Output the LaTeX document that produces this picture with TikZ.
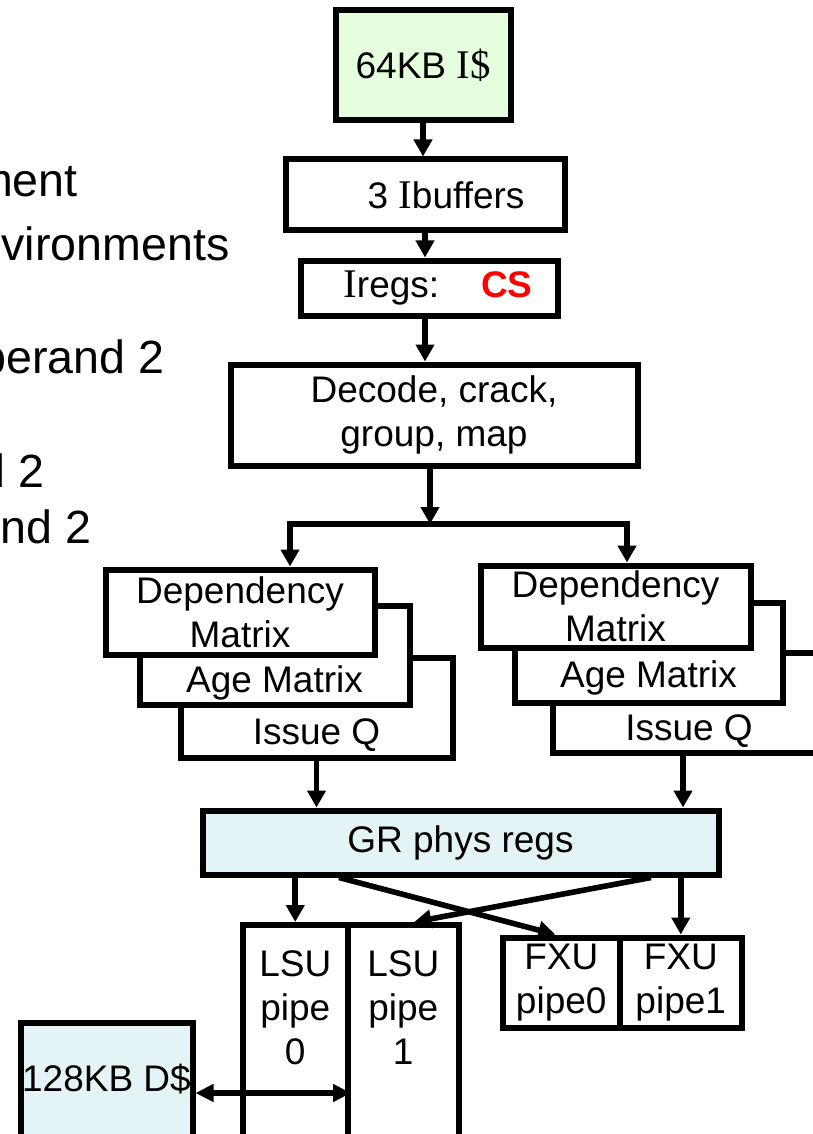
\documentclass[tikz,border=0pt]{standalone}
\usepackage{fontspec}
\setmainfont{Liberation Sans}
\newfontfamily\serifface[Scale=1.1]{Liberation Serif}
\usetikzlibrary{arrows.meta}

\definecolor{icfill}{RGB}{229,255,222}
\definecolor{regfill}{RGB}{228,244,246}
\newcommand{\boxfont}{\fontsize{18.5pt}{22pt}\selectfont}
\newcommand{\slidefont}{\fontsize{23.3pt}{28pt}\selectfont}
\newcommand{\sI}{{\serifface I}}

\tikzset{
  unit/.style={draw, line width=3pt, fill=white, inner sep=0pt, align=center, font=\boxfont},
  tag/.style={inner sep=0pt, align=center, font=\boxfont},
  flow/.style={line width=2.8pt, -{Triangle[length=8.5pt,width=9pt]}},
  dflow/.style={line width=2.8pt, {Triangle[length=9pt,width=8.5pt]}-{Triangle[length=9pt,width=8.5pt]}},
  wire/.style={line width=2.8pt, line cap=rect},
  slide/.style={anchor=base east, inner sep=0pt, font=\slidefont},
}

\begin{document}
\begin{tikzpicture}[x=0.5pt, y=-0.5pt]
\useasboundingbox (0,0) rectangle (813,1134);

% slide text, cut off at the left edge
\node[slide] (lineA) at (78,197) {ment};
\node[slide] (lineB) at (230,260) {vironments};
\node[slide] (lineC) at (165,373) {perand 2};
\node[slide] (lineD) at (45,487) {d 2};
\node[slide] (lineE) at (92,543) {nd 2};

% front end
\node[unit, fill=icfill, minimum width=87.5pt, minimum height=55pt] (icache) at (423,65.5) {64KB {\serifface I\$}};
\node[unit, minimum width=139.5pt, minimum height=35.5pt] (ibuf) at (425,195) {\hspace{21pt}3 \sI{}buffers};
\node[unit, minimum width=128.5pt, minimum height=27.5pt] (iregs) at (429,288) {\raisebox{-3.5pt}{\hspace{9pt}\sI{}regs:\hspace{21pt}\textcolor{red}{\bfseries CS}}};
\node[unit, minimum width=203.5pt, minimum height=50.5pt] (decode) at (434,415) {Decode, crack,\\group, map};

% issue side, back to front
\node[unit, minimum width=136pt, minimum height=50pt, label={[tag,anchor=base,yshift=8pt]south:Issue Q}] (issL) at (316.5,707.5) {};
\node[unit, minimum width=135pt, minimum height=49.5pt, label={[tag,anchor=base,yshift=7.5pt]south:Age Matrix}] (ageL) at (274.5,655) {};
\node[unit, minimum width=134.5pt, minimum height=42.5pt] (depL) at (240,612) {Dependency\\Matrix};

\node[unit, minimum width=136pt, minimum height=50pt, label={[tag,anchor=base,yshift=7.5pt]south:Issue Q}] (issR) at (689,702.5) {};
\node[unit, minimum width=134pt, minimum height=50pt, label={[tag,anchor=base,yshift=9pt]south:Age Matrix}] (ageR) at (648.5,652.5) {};
\node[unit, minimum width=135pt, minimum height=41pt] (depR) at (615.5,606.5) {Dependency\\Matrix};

% registers and pipes
\node[unit, fill=regfill, minimum width=258pt, minimum height=32pt] (GR) at (460.5,842.5) {GR phys regs};
\node[unit, minimum width=52.75pt, minimum height=117.5pt, label={[tag,anchor=north,yshift=-14pt]north:LSU\\pipe\\0}] (LSU0) at (295.25,1042.5) {};
\node[unit, minimum width=55.25pt, minimum height=117.5pt, label={[tag,anchor=north,yshift=-14pt]north:LSU\\pipe\\1}] (LSU1) at (403.25,1042.5) {};
\node[unit, minimum width=58.75pt, minimum height=45pt] (FXU0) at (561.25,982.5) {FXU\\pipe0};
\node[unit, minimum width=60.75pt, minimum height=45pt] (FXU1) at (680.75,982.5) {FXU\\pipe1};
\node[unit, fill=regfill, minimum width=86pt, minimum height=70.5pt, label={[tag,anchor=base,yshift=-36pt]north:128KB D\$}] (dcache) at (106.5,1093) {};

% connectors
\draw[flow] (icache.south) -- (icache.south |- ibuf.north);
\draw[flow] (ibuf.south) -- (ibuf.south |- iregs.north);
\draw[flow] (ibuf.south |- iregs.south) -- (ibuf.south |- decode.north);

\coordinate (fork) at (430,524);
\coordinate (forkL) at (290,524);
\coordinate (forkR) at (627,524);
\draw[flow] (decode.south -| fork) -- (fork);
\draw[wire] (forkL) -- (forkR);
\draw[flow] (forkL) -- (forkL |- depL.north);
\draw[flow] (forkR) -- (forkR |- depR.north);

\coordinate (qR) at ([xshift=-3pt]issR.south);
\draw[flow] (issL.south) -- (issL.south |- GR.north);
\draw[flow] (qR) -- (qR |- GR.north);

\coordinate (xsA) at (339,0);
\coordinate (xsB) at (651,0);
\draw[flow] (LSU0.north |- GR.south) -- (LSU0.north);
\draw[flow] (FXU1.north |- GR.south) -- (FXU1.north);
\draw[flow] (GR.south -| xsA) -- ([xshift=-3pt]FXU0.north);
\draw[flow] (GR.south -| xsB) -- ([xshift=5.5pt]LSU1.north);

\draw[dflow] (dcache.east) -- (dcache.east -| LSU0.east);
\end{tikzpicture}
\end{document}
